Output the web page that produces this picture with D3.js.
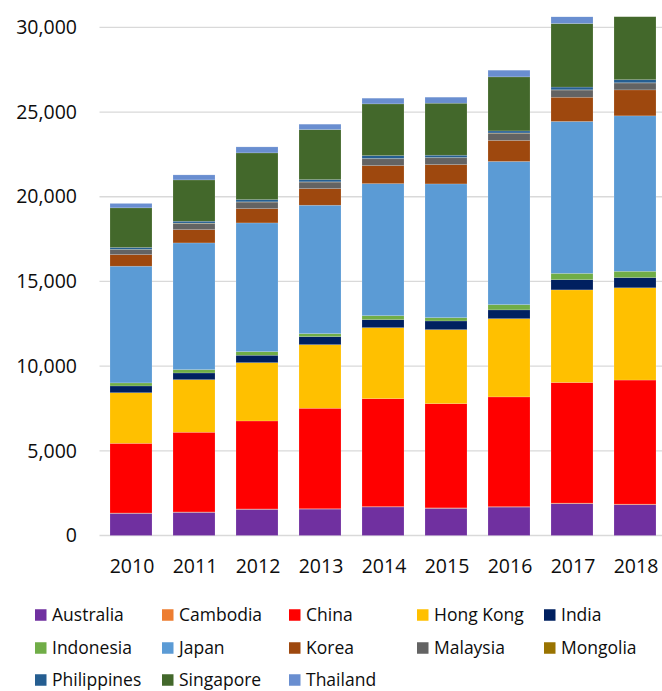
<!DOCTYPE html>
<html>
<head>
<meta charset="utf-8">
<script src="https://cdn.jsdelivr.net/npm/d3@7"></script>
<style>
  html, body { margin: 0; padding: 0; background: #fff; }
  svg { display: block; font-family: "Open Sans", "Noto Sans", sans-serif; }
</style>
</head>
<body>
<svg id="chart" width="662" height="691"></svg>
<script>
// Years on the category axis
const years = ["2010", "2011", "2012", "2013", "2014", "2015", "2016", "2017", "2018"];

// Values per country, one entry per year (stacked bottom to top in this order)
const australia   = [1310, 1370, 1547, 1560, 1683, 1606, 1678, 1885, 1823];
const cambodia    = [20, 20, 20, 20, 25, 25, 25, 30, 30];
const china       = [4110, 4705, 5195, 5932, 6371, 6153, 6480, 7117, 7325];
const hongKong    = [2990, 3106, 3443, 3756, 4193, 4370, 4620, 5470, 5448];
const india       = [400, 396, 437, 472, 472, 513, 518, 601, 601];
const indonesia   = [180, 195, 213, 178, 236, 195, 311, 373, 373];
const japan       = [6890, 7482, 7600, 7582, 7796, 7896, 8452, 8970, 9177];
const korea       = [685, 786, 845, 981, 1063, 1140, 1243, 1429, 1533];
const malaysia    = [290, 367, 385, 385, 403, 403, 425, 425, 405];
const mongolia    = [15, 15, 15, 15, 15, 15, 15, 15, 15];
const philippines = [115, 112, 131, 131, 172, 137, 120, 161, 181];
const singapore   = [2340, 2440, 2758, 2953, 3054, 3071, 3190, 3750, 3900];
const thailand    = [260, 296, 354, 319, 336, 354, 394, 420, 440];

const seriesNames = ["Australia", "Cambodia", "China", "Hong Kong", "India", "Indonesia",
  "Japan", "Korea", "Malaysia", "Mongolia", "Philippines", "Singapore", "Thailand"];
const seriesValues = [australia, cambodia, china, hongKong, india, indonesia,
  japan, korea, malaysia, mongolia, philippines, singapore, thailand];
const seriesColors = ["#7030A0", "#ED7D31", "#FF0000", "#FFC000", "#002060", "#70AD47",
  "#5B9BD5", "#9E480E", "#636363", "#997300", "#255E91", "#43682B", "#698ED0"];

// Value-axis tick labels
const yTicks = [0, 5000, 10000, 15000, 20000, 25000, 30000];
const yTopValue = 30630;

// Table for d3.stack: one row per year
const rows = years.map((yr, i) => {
  const r = { year: yr };
  seriesNames.forEach((n, k) => { r[n] = seriesValues[k][i]; });
  return r;
});

const svg = d3.select("#chart");
const W = 662;
const plot = { left: 99.5, right: 666.5, top: 16.7, bottom: 535.5 };
const textColor = "#0d0d0d";

const x = d3.scaleBand().domain(years)
  .range([plot.left, plot.right])
  .paddingInner(1 / 3).paddingOuter(1 / 6);
const y = d3.scaleLinear().domain([0, yTopValue]).range([plot.bottom, plot.top]);

// Gridlines
svg.append("g").selectAll("line").data(yTicks).join("line")
  .attr("x1", plot.left).attr("x2", W)
  .attr("y1", d => y(d)).attr("y2", d => y(d))
  .attr("stroke", "#d9d9d9").attr("stroke-width", 1.3);

// Value-axis labels
const yAxis = d3.axisLeft(y).tickValues(yTicks).tickSize(0).tickPadding(0)
  .tickFormat(d3.format(","));
svg.append("g").attr("transform", "translate(77,0)").call(yAxis)
  .call(g => g.select(".domain").remove())
  .call(g => g.selectAll("text").attr("font-size", 19.5)
    .attr("fill", textColor).attr("font-family", "'Open Sans', sans-serif"));

// Stacked bars, clipped to the plot area
svg.append("clipPath").attr("id", "plotClip").append("rect")
  .attr("x", 0).attr("y", plot.top).attr("width", W).attr("height", plot.bottom - plot.top + 1);

const stacked = d3.stack().keys(seriesNames)(rows);
const barsG = svg.append("g").attr("clip-path", "url(#plotClip)");
barsG.selectAll("g").data(stacked).join("g")
  .attr("fill", (d, i) => seriesColors[i])
  .selectAll("rect").data(d => d).join("rect")
  .attr("x", d => x(d.data.year))
  .attr("width", x.bandwidth())
  .attr("y", d => y(d[1]))
  .attr("height", d => y(d[0]) - y(d[1]))
  .attr("stroke", "#ffffff").attr("stroke-opacity", 0.25).attr("stroke-width", 0.6);

// Category-axis labels
const xAxis = d3.axisBottom(x).tickSize(0).tickPadding(0);
svg.append("g").attr("transform", `translate(1,${plot.bottom + 24})`).call(xAxis)
  .call(g => g.select(".domain").remove())
  .call(g => g.selectAll("text").attr("font-size", 19.5).attr("fill", textColor)
    .attr("font-family", "'Open Sans', sans-serif"));

// Legend: five columns, three rows
const legCols = [35, 162, 289, 417, 544];
const legRows = [615, 648, 680];
const legend = svg.append("g").selectAll("g").data(seriesNames).join("g")
  .attr("transform", (d, i) => `translate(${legCols[i % 5]},${legRows[Math.floor(i / 5)]})`);
legend.append("rect").attr("x", 0).attr("y", -5.75).attr("width", 11.5).attr("height", 11.5)
  .attr("fill", (d, i) => seriesColors[i]);
legend.append("text").attr("x", 17).attr("y", 0).attr("dy", "0.35em")
  .attr("font-size", 17.5).attr("fill", textColor).text(d => d);
</script>
</body>
</html>
